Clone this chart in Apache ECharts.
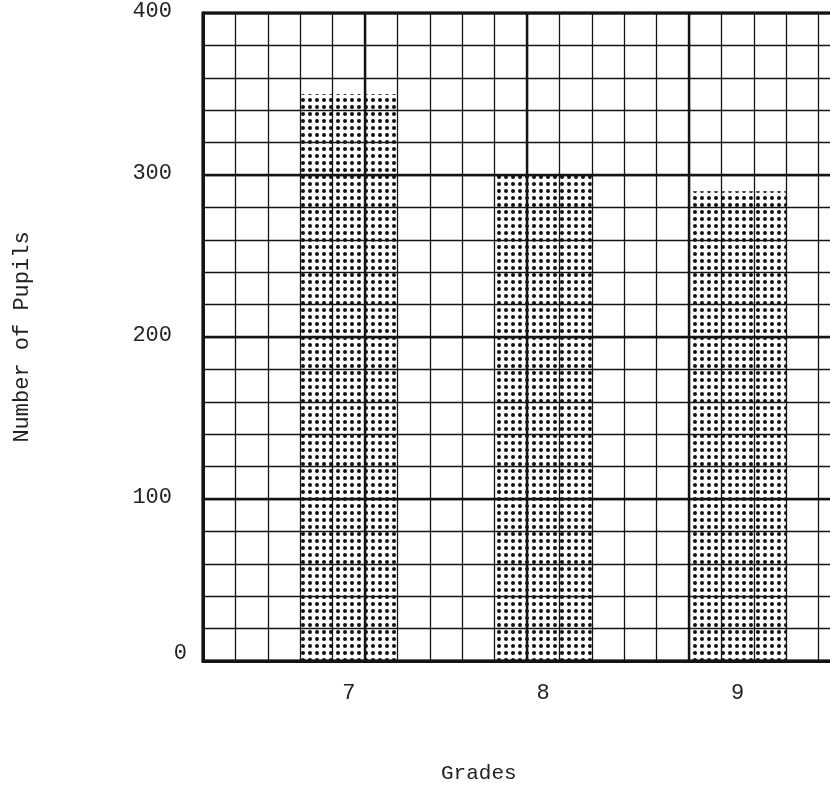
<!DOCTYPE html>
<html>
<head>
<meta charset="utf-8">
<script src="https://cdn.jsdelivr.net/npm/echarts@6/dist/echarts.min.js"></script>
<style>
  html, body { margin: 0; padding: 0; background: #fff; }
  #chart { width: 830px; height: 787px; }
</style>
</head>
<body>
<div id="chart"></div>
<script>
// ---- data ----
const grades = ['7', '8', '9'];
const pupils = [350, 300, 290];
const yTicks = [0, 100, 200, 300, 400];
const yAxisTitle = 'Number of Pupils';
const xAxisTitle = 'Grades';

const FONT = '"Courier New", "Liberation Mono", monospace';
const INK = '#141414';
const TXT = '#222';

const chart = echarts.init(document.getElementById('chart'), null, { renderer: 'canvas' });

const minorLine = { show: true, lineStyle: { color: INK, width: 1.3, type: 'solid' } };
const majorLine = { show: true, lineStyle: { color: INK, width: 2.4, type: 'solid' } };

chart.setOption({
  backgroundColor: '#fff',
  animation: false,
  title: {
    text: xAxisTitle,
    left: 441,
    top: 763,
    padding: 0,
    textStyle: { fontFamily: FONT, fontSize: 21, fontWeight: 'normal', color: TXT }
  },
  grid: [
    { left: 203, top: 13, width: 648, height: 648, outerBoundsMode: 'none', containLabel: false,
      show: true, borderColor: INK, borderWidth: 3, backgroundColor: 'transparent', z: 6 },
    { left: 251.6, top: 13, width: 583.2, height: 648, outerBoundsMode: 'none', containLabel: false }
  ],
  xAxis: [
    { type: 'value', gridIndex: 0, position: 'bottom', min: 0, max: 20, interval: 1, z: 5,
      axisLine: { show: false }, axisTick: { show: false }, axisLabel: { show: false },
      splitLine: minorLine },
    { type: 'value', gridIndex: 0, position: 'bottom', min: 0, max: 20, interval: 5, z: 5,
      axisLine: { show: true, onZero: false, lineStyle: { color: INK, width: 3 } },
      axisTick: { show: false }, axisLabel: { show: false },
      splitLine: majorLine },
    { type: 'category', gridIndex: 1, position: 'bottom', data: grades, boundaryGap: true,
      axisLine: { show: false }, axisTick: { show: false },
      axisLabel: { fontFamily: FONT, fontSize: 22, color: TXT, margin: 21 },
      splitLine: { show: false } }
  ],
  yAxis: [
    { type: 'value', gridIndex: 0, position: 'left', min: 0, max: 400, interval: 20, z: 5,
      axisLine: { show: false }, axisTick: { show: false }, axisLabel: { show: false },
      splitLine: minorLine },
    { type: 'value', gridIndex: 0, position: 'left', min: 0, max: 400, interval: 100, z: 5,
      axisLine: { show: true, onZero: false, lineStyle: { color: INK, width: 3 } },
      axisTick: { show: false },
      axisLabel: {
        fontFamily: FONT, fontSize: 22, color: TXT, margin: 16,
        formatter: v => yTicks.indexOf(v) === 0 ? '{z|' + v + '}' : '{n|' + v + '}',
        rich: {
          n: { fontFamily: FONT, fontSize: 22, color: TXT, padding: [0, 15, 3, 0] },
          z: { fontFamily: FONT, fontSize: 22, color: TXT, padding: [0, 0, 16, 0] }
        }
      },
      splitLine: majorLine,
      name: yAxisTitle, nameLocation: 'middle', nameRotate: 90, nameGap: 170,
      nameTextStyle: { fontFamily: FONT, fontSize: 22, color: TXT }
    },
    { type: 'value', gridIndex: 1, position: 'left', min: 0, max: 400, show: false }
  ],
  series: [
    {
      type: 'bar',
      xAxisIndex: 2,
      yAxisIndex: 2,
      data: pupils,
      barWidth: '50%',
      z: 2,
      itemStyle: {
        color: '#ffffff',
        decal: {
          symbol: 'circle',
          symbolSize: 1,
          color: '#111',
          dashArrayX: [4, 3],
          dashArrayY: [4, 3],
          rotation: 0
        }
      }
    }
  ]
});
</script>
</body>
</html>
